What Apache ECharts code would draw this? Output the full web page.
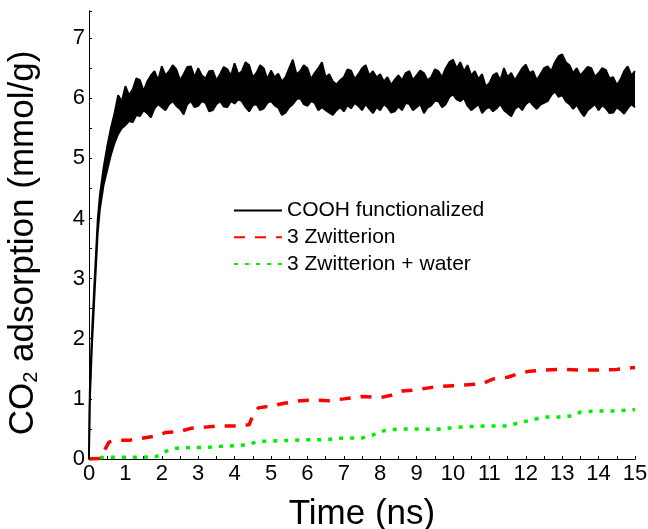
<!DOCTYPE html>
<html>
<head>
<meta charset="utf-8">
<script src="https://cdn.jsdelivr.net/npm/echarts@6/dist/echarts.min.js"></script>
<style>
  html, body { margin: 0; background: #fff; }
  #chart { width: 648px; height: 529px; }
</style>
</head>
<body>
<div id="chart"></div>
<script>
// COOH functionalized: the trace is a noisy band, kept as its lower and upper edge
// steep rise in the first 0.3 ns
const coohRiseTime = [0, 0.02, 0.08, 0.15, 0.24, 0.3];
const coohRiseLower = [0, 0.9, 1.85, 2.7, 3.75, 4.15];
const coohRiseUpper = [0, 1.1, 2.1, 2.95, 4.0, 4.4];
// then one reading every 0.1 ns from 0.4 to 15 ns (peaks and dips of the band)
const coohStart = 0.4;
const coohStep = 0.1;
const coohUpper = [
  4.85, 5.2, 5.5, 5.75, 6.05, 5.95, 6.2, 6.05, 6.15, 6.33,
  6.3, 6.12, 6.28, 6.38, 6.45, 6.3, 6.53, 6.38, 6.45, 6.55,
  6.48, 6.3, 6.4, 6.52, 6.53, 6.35, 6.5, 6.38, 6.33, 6.45,
  6.46, 6.3, 6.4, 6.52, 6.48, 6.38, 6.58, 6.4, 6.45, 6.6,
  6.55, 6.35, 6.42, 6.55, 6.5, 6.32, 6.46, 6.35, 6.41, 6.28,
  6.35, 6.5, 6.64, 6.4, 6.45, 6.55, 6.5, 6.32, 6.42, 6.5,
  6.6, 6.35, 6.4, 6.28, 6.23, 6.3, 6.35, 6.48, 6.46, 6.32,
  6.4, 6.5, 6.55, 6.38, 6.45, 6.35, 6.4, 6.28, 6.35, 6.22,
  6.31, 6.38, 6.3, 6.42, 6.45, 6.3, 6.38, 6.46, 6.42, 6.3,
  6.35, 6.48, 6.45, 6.35, 6.5, 6.6, 6.64, 6.5, 6.6, 6.45,
  6.55, 6.38, 6.45, 6.32, 6.4, 6.2, 6.25, 6.38, 6.42, 6.3,
  6.5, 6.35, 6.42, 6.3, 6.4, 6.5, 6.56, 6.42, 6.45, 6.3,
  6.4, 6.5, 6.53, 6.45, 6.6, 6.7, 6.73, 6.6, 6.55, 6.42,
  6.5, 6.38, 6.45, 6.52, 6.5, 6.36, 6.42, 6.5, 6.47, 6.33,
  6.35, 6.22, 6.31, 6.45, 6.53, 6.38, 6.45
];
const coohLower = [
  4.55, 4.8, 5.05, 5.25, 5.4, 5.5, 5.55, 5.62, 5.6, 5.72,
  5.7, 5.8, 5.75, 5.68, 5.83, 5.9, 5.85, 5.8, 5.9, 5.95,
  5.87, 5.82, 5.73, 5.9, 5.95, 5.85, 5.87, 5.95, 5.92, 5.78,
  5.8, 5.9, 5.95, 5.86, 5.85, 5.95, 5.91, 5.98, 5.95, 5.85,
  5.78, 5.88, 5.9, 5.8, 5.83, 5.92, 5.95, 5.88, 5.84, 5.72,
  5.76, 5.85, 5.9, 5.98, 6.0, 5.9, 5.87, 5.95, 5.92, 5.8,
  5.85, 5.8, 5.76, 5.72, 5.8, 5.85, 5.78, 5.88, 5.83, 5.92,
  5.87, 5.8, 5.9, 5.82, 5.75, 5.85, 5.8, 5.9, 5.85, 5.76,
  5.78, 5.86, 5.8, 5.92, 5.9, 5.8, 5.85, 5.9, 5.75, 5.84,
  5.88, 5.95, 5.95, 5.85, 5.9, 6.02, 6.06, 5.98, 5.95, 6.0,
  5.87, 5.8, 5.85, 5.9, 5.75, 5.82, 5.85, 5.78, 5.83, 5.9,
  5.8, 5.75, 5.7, 5.82, 5.87, 5.8, 5.9, 5.95, 5.88, 5.82,
  5.89, 5.92, 5.95, 6.05, 6.11, 6.02, 6.05, 5.95, 5.9, 5.82,
  5.89, 5.78, 5.7, 5.8, 5.85, 5.9, 5.8, 5.88, 5.83, 5.75,
  5.76, 5.85, 5.8, 5.74, 5.83, 5.9, 5.85
];

// 3 Zwitterion
const zwitTime = [0, 0.3, 0.4, 0.55, 0.7, 1.1, 1.5, 1.8, 2.1, 2.5, 2.8, 3.2, 3.6, 4.0, 4.4, 4.5, 4.65, 5.0, 5.4, 5.8, 6.2, 6.6, 7.0, 7.5, 8.0, 8.3, 8.6, 9.0, 9.5, 10.0, 10.5, 10.8, 11.1, 11.5, 11.8, 12.1, 12.5, 13.0, 13.5, 14.0, 14.5, 15.0];
const zwitValue = [0, 0.01, 0.12, 0.28, 0.31, 0.31, 0.35, 0.38, 0.44, 0.46, 0.51, 0.53, 0.55, 0.55, 0.57, 0.72, 0.85, 0.88, 0.93, 0.97, 0.98, 0.97, 1.0, 1.04, 1.02, 1.06, 1.13, 1.15, 1.2, 1.22, 1.24, 1.25, 1.33, 1.36, 1.42, 1.46, 1.48, 1.49, 1.48, 1.48, 1.49, 1.52];

// 3 Zwitterion + water
const waterTime = [0, 0.2, 0.5, 1.0, 1.5, 1.85, 2.0, 2.2, 2.4, 2.8, 3.2, 3.6, 4.0, 4.4, 4.6, 5.0, 5.5, 6.0, 6.5, 7.0, 7.5, 7.8, 8.0, 8.5, 9.0, 9.5, 10.0, 10.5, 11.0, 11.5, 11.8, 12.1, 12.5, 13.0, 13.3, 13.5, 14.0, 14.5, 15.0];
const waterValue = [0, 0.02, 0.03, 0.03, 0.03, 0.04, 0.1, 0.15, 0.18, 0.19, 0.19, 0.21, 0.22, 0.24, 0.29, 0.3, 0.31, 0.32, 0.32, 0.35, 0.35, 0.4, 0.46, 0.5, 0.5, 0.49, 0.52, 0.54, 0.55, 0.55, 0.6, 0.64, 0.7, 0.7, 0.72, 0.78, 0.8, 0.8, 0.82];

const seriesNames = ["COOH functionalized", "3 Zwitterion", "3 Zwitterion + water"];

// time axis of the COOH band; rows are [value, time] so the stack runs on the value (y)
const coohTime = coohRiseTime.concat(coohUpper.map((_, i) => +(coohStart + i * coohStep).toFixed(2)));
const lowerAll = coohRiseLower.concat(coohLower);
const upperAll = coohRiseUpper.concat(coohUpper);
const coohBase = coohTime.map((t, i) => [lowerAll[i], t]);
const coohBand = coohTime.map((t, i) => [+(upperAll[i] - lowerAll[i]).toFixed(3), t]);
const zwitData = zwitTime.map((t, i) => [t, zwitValue[i]]);
const waterData = waterTime.map((t, i) => [t, waterValue[i]]);

const font = "Liberation Sans, Arial, sans-serif";

const chart = echarts.init(document.getElementById("chart"));

// shared look for the four sides of the box
const boxAxis = {
  type: "value",
  axisLine: { show: true, lineStyle: { color: "#000", width: 1 } },
  axisTick: { show: true, inside: true, length: 3, lineStyle: { color: "#000" } },
  minorTick: { show: true, splitNumber: 2, length: 3, lineStyle: { color: "#000" } },
  splitLine: { show: false },
};

chart.setOption({
  animation: false,
  backgroundColor: "#fff",
  textStyle: { fontFamily: font },
  grid: { left: 89, right: 13, top: 11, bottom: 70, outerBoundsMode: "none" },
  legend: {
    data: seriesNames,
    orient: "vertical",
    left: 233,
    top: 200,
    padding: 0,
    itemWidth: 48,
    itemHeight: 14,
    itemGap: 5.7,
    itemStyle: { color: "rgba(0,0,0,0)", borderWidth: 0 },
    textStyle: { fontSize: 21, color: "#000", fontFamily: font },
  },
  xAxis: [
    {
      ...boxAxis,
      position: "bottom",
      min: 0,
      max: 15,
      interval: 1,
      axisLabel: { fontSize: 22, color: "#000", margin: 4, fontFamily: font },
      name: "Time (ns)",
      nameLocation: "middle",
      nameGap: 38,
      nameTextStyle: { fontSize: 35, color: "#000", fontFamily: font },
    },
    {
      ...boxAxis,
      position: "top",
      min: 0,
      max: 15,
      interval: 1,
      axisTick: { ...boxAxis.axisTick, inside: false },
      axisLabel: { show: false },
    },
  ],
  yAxis: [
    {
      ...boxAxis,
      position: "left",
      min: 0,
      max: 7.45,
      interval: 1,
      axisLabel: { fontSize: 22, color: "#000", margin: 4, showMaxLabel: false, fontFamily: font },
      name: "{a|CO}{b|2}{a| adsorption (mmol/g)}",
      nameLocation: "middle",
      nameGap: 48,
      nameTextStyle: {
        color: "#000",
        padding: [0, 16, 0, 0],
        rich: {
          a: { fontSize: 35, fontFamily: font, color: "#000" },
          b: { fontSize: 20, fontFamily: font, color: "#000", verticalAlign: "bottom", padding: [14, 0, 0, 0] },
        },
      },
    },
    {
      ...boxAxis,
      position: "right",
      min: 0,
      max: 7.45,
      interval: 1,
      axisTick: { ...boxAxis.axisTick, inside: false },
      axisLabel: { show: false },
    },
  ],
  series: [
    {
      name: seriesNames[2],
      type: "line",
      data: waterData,
      symbol: "none",
      color: "#00ee00",
      lineStyle: { width: 3.5, type: [4, 7], color: "#00ee00" },
      z: 2,
    },
    {
      name: seriesNames[1],
      type: "line",
      data: zwitData,
      symbol: "none",
      color: "#ff0000",
      lineStyle: { width: 3.5, type: [11, 10], color: "#ff0000" },
      z: 3,
    },
    {
      name: "COOH lower edge",
      type: "line",
      stack: "cooh",
      data: coohBase,
      encode: { x: 1, y: 0 },
      symbol: "none",
      color: "#000",
      lineStyle: { width: 1.8, color: "#000" },
      z: 4,
    },
    {
      name: seriesNames[0],
      type: "line",
      stack: "cooh",
      data: coohBand,
      encode: { x: 1, y: 0 },
      symbol: "none",
      color: "#000",
      lineStyle: { width: 1.8, color: "#000" },
      areaStyle: { color: "#000", opacity: 1 },
      z: 4,
    },
  ],
});
</script>
</body>
</html>
